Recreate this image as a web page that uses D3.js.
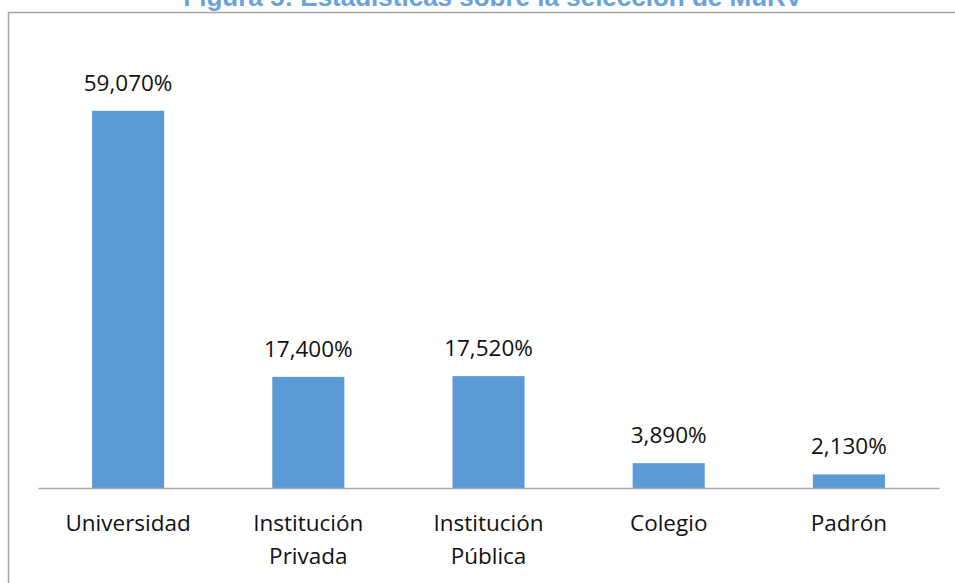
<!DOCTYPE html>
<html>
<head>
<meta charset="utf-8">
<script src="https://cdn.jsdelivr.net/npm/d3@7"></script>
<style>
  html, body { margin: 0; padding: 0; background: #fff; }
  svg { display: block; }
</style>
</head>
<body>
<svg id="chart" width="955" height="583"></svg>
<script>
const title = "Figura 5: Estadísticas sobre la selección de MuRV";
const categories = ["Universidad", "Institución Privada", "Institución Pública", "Colegio", "Padrón"];
const values = [59.07, 17.40, 17.52, 3.89, 2.13];
const yMax = 70;

const W = 955, H = 583;
const margin = { left: 38, right: 16, top: 41, bottom: 95 };
const svg = d3.select("#chart");

const locale = d3.formatLocale({ decimal: ",", thousands: ".", grouping: [3], currency: ["", "€"] });
const fmt = v => locale.format(".3f")(v) + "%";

// frame (clipped chart border)
svg.append("path")
  .attr("d", `M8.5,${H + 5} L8.5,12.5 L${W + 5},12.5`)
  .attr("fill", "none")
  .attr("stroke", "#a6a6a6")
  .attr("stroke-width", 1.5);

// title (partly cut at top)
svg.append("text")
  .attr("x", 493)
  .attr("y", 6)
  .attr("text-anchor", "middle")
  .attr("font-family", "Liberation Sans, Arial, sans-serif")
  .attr("font-weight", "bold")
  .attr("font-size", 26)
  .attr("fill", "#6aa3db")
  .text(title);

const x = d3.scaleBand()
  .domain(categories)
  .range([margin.left, W - margin.right])
  .paddingInner(0.6)
  .paddingOuter(0.3);

const y = d3.scaleLinear()
  .domain([0, yMax])
  .range([488, margin.top]);

// bars
svg.append("g").selectAll("rect")
  .data(categories)
  .join("rect")
  .attr("x", d => x(d))
  .attr("width", x.bandwidth())
  .attr("y", (d, i) => y(values[i]))
  .attr("height", (d, i) => y(0) - y(values[i]))
  .attr("fill", "#5b9bd5");

// value labels
svg.append("g").selectAll("text")
  .data(categories)
  .join("text")
  .attr("x", d => x(d) + x.bandwidth() / 2)
  .attr("y", (d, i) => y(values[i]) - 20)
  .attr("text-anchor", "middle")
  .attr("font-family", "Open Sans, sans-serif")
  .attr("font-size", 22.5)
  .attr("fill", "#111")
  .text((d, i) => fmt(values[i]));

// x axis
const xAxis = svg.append("g")
  .attr("transform", `translate(0,${y(0)})`)
  .call(d3.axisBottom(x).tickSize(0).tickSizeOuter(0));
xAxis.select(".domain")
  .attr("stroke", "#a6a6a6")
  .attr("stroke-width", 1.5);
xAxis.selectAll(".tick text").remove();
xAxis.selectAll(".tick").each(function (d) {
  const words = d.split(" ");
  const t = d3.select(this).append("text")
    .attr("text-anchor", "middle")
    .attr("font-family", "Open Sans, sans-serif")
    .attr("font-size", 22.5)
    .attr("fill", "#111");
  words.forEach((w, i) => {
    t.append("tspan").attr("x", 0).attr("y", 43 + i * 33).text(w);
  });
});
</script>
</body>
</html>
